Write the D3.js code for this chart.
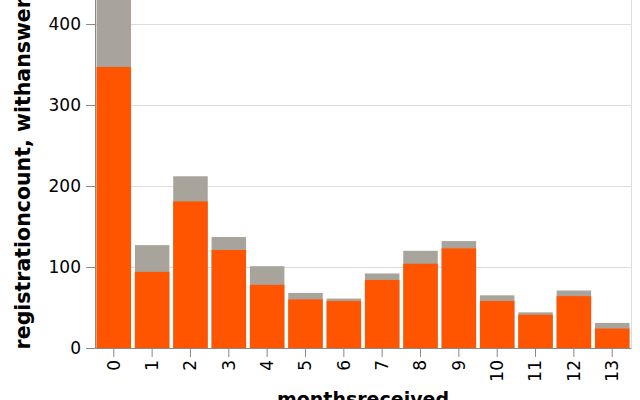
<!DOCTYPE html>
<html>
<head>
<meta charset="utf-8">
<script src="https://cdn.jsdelivr.net/npm/d3@7"></script>
<style>
  html, body { margin: 0; padding: 0; background: #fff; }
  svg { display: block; }
  text { font-family: "DejaVu Sans", sans-serif; }
</style>
</head>
<body>
<svg id="chart" width="640" height="400"></svg>
<script>
const months = ["0","1","2","3","4","5","6","7","8","9","10","11","12","13"];
const registrationcount = [450, 127, 212, 137, 101, 68, 61, 92, 120, 132, 65, 44, 71, 31];
const withanswer = [347, 94, 181, 121, 78, 60, 58, 84, 104, 123, 58, 41, 64, 24];
const yTicks = [0, 100, 200, 300, 400];

const svg = d3.select("#chart");
const margin = { left: 95, top: -16.5, right: 9 };
const innerW = 640 - margin.left - margin.right;
const innerH = 348 - margin.top;

const x = d3.scaleBand().domain(months).range([0, innerW]).paddingInner(0.1).paddingOuter(0.04);
const y = d3.scaleLinear().domain([0, 450]).range([innerH, 0]);

const g = svg.append("g").attr("transform", `translate(${margin.left},${margin.top})`);

// grid
g.append("g").selectAll("line").data(yTicks).join("line")
  .attr("x1", 0).attr("x2", innerW)
  .attr("y1", d => y(d) + 0.5).attr("y2", d => y(d) + 0.5)
  .attr("stroke", "#ddd").attr("stroke-width", 1);

// right view border
g.append("line").attr("x1", innerW + 0.5).attr("x2", innerW + 0.5)
  .attr("y1", 0).attr("y2", innerH).attr("stroke", "#ddd");

const data = months.map((m, i) => ({ m, total: registrationcount[i], ans: withanswer[i] }));

g.append("g").selectAll("rect").data(data).join("rect")
  .attr("x", d => x(d.m)).attr("width", x.bandwidth())
  .attr("y", d => y(d.total)).attr("height", d => y(0) - y(d.total))
  .attr("fill", "#a8a49c");

g.append("g").selectAll("rect").data(data).join("rect")
  .attr("x", d => x(d.m)).attr("width", x.bandwidth())
  .attr("y", d => y(d.ans)).attr("height", d => y(0) - y(d.ans))
  .attr("fill", "#ff5500");

// y axis
const yAxis = g.append("g")
  .call(d3.axisLeft(y).tickValues(yTicks).tickSize(9).tickPadding(5).tickSizeOuter(0));
yAxis.select(".domain").attr("stroke", "#888");
yAxis.selectAll(".tick line").attr("stroke", "#888");
yAxis.selectAll(".tick text").attr("font-size", 17).attr("fill", "#000")
  .attr("font-family", "DejaVu Sans, sans-serif");

// x axis
const xAxis = g.append("g").attr("transform", `translate(0,${innerH})`)
  .call(d3.axisBottom(x).tickSize(9).tickPadding(5).tickSizeOuter(0));
xAxis.select(".domain").attr("stroke", "#888");
xAxis.selectAll(".tick line").attr("stroke", "#888");
xAxis.selectAll(".tick text").attr("font-size", 17).attr("fill", "#000")
  .attr("font-family", "DejaVu Sans, sans-serif")
  .attr("transform", "rotate(-90)")
  .attr("text-anchor", "end")
  .attr("x", -12).attr("y", 0).attr("dy", "0.35em");

// titles
g.append("text")
  .attr("transform", `translate(${-65},${innerH / 2 + 8}) rotate(-90)`)
  .attr("text-anchor", "middle")
  .attr("font-weight", "bold").attr("font-size", 20.5)
  .text("registrationcount, withanswer");

g.append("text")
  .attr("x", innerW / 2).attr("y", innerH + 58)
  .attr("text-anchor", "middle")
  .attr("font-weight", "bold").attr("font-size", 19)
  .text("monthsreceived");
</script>
</body>
</html>
